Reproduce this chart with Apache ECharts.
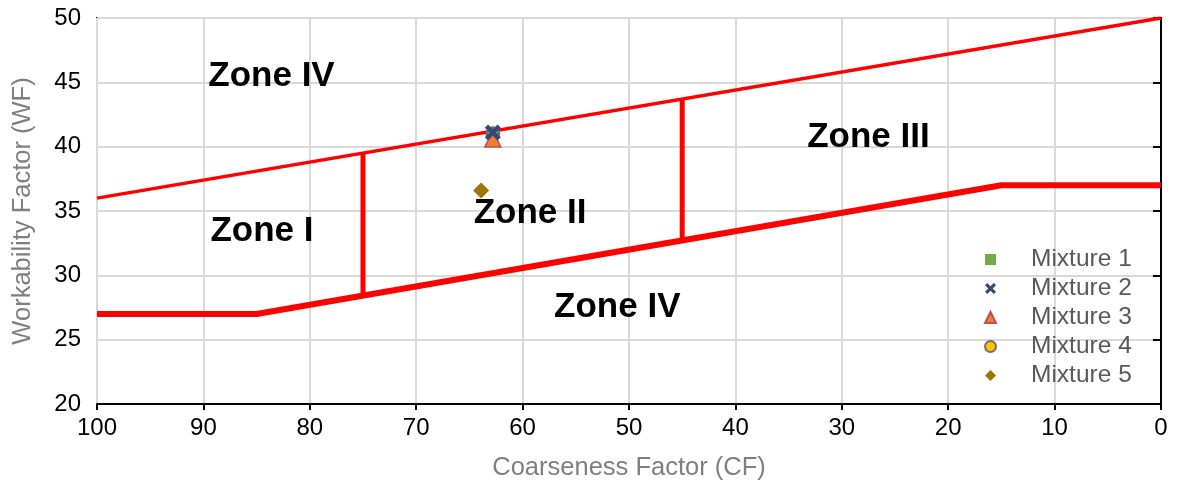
<!DOCTYPE html>
<html>
<head>
<meta charset="utf-8">
<script src="https://cdn.jsdelivr.net/npm/echarts@6/dist/echarts.min.js"></script>
<style>html,body{margin:0;padding:0;background:#fff}#c{width:1178px;height:489px}</style>
</head>
<body>
<div id="c"></div>
<script>
// Boundary lines (CF, WF)
var upperLine = [[100, 36], [0, 50]];
var lowerLine = [[100, 27], [85, 27], [15, 37], [0, 37]];
var divider75 = [[75, 28.43], [75, 39.5]];
var divider45 = [[45, 32.71], [45, 43.7]];
// Mixtures (CF, WF)
var mixture1 = [[62.8, 41.1]];
var mixture2 = [[62.8, 41.1]];
var mixture3 = [[62.8, 40.6]];
var mixture4 = [[62.8, 41.0]];
var mixture5 = [[63.9, 36.6]];
var mixtureNames = ['Mixture 1', 'Mixture 2', 'Mixture 3', 'Mixture 4', 'Mixture 5'];
// Zone labels [CF, WF, text]
var zoneLabels = [
  [83.6, 45.5, 'Zone IV'],
  [27.5, 40.7, 'Zone III'],
  [59.3, 34.8, 'Zone II'],
  [84.5, 33.4, 'Zone I'],
  [51.1, 27.5, 'Zone IV']
];

var FONT = '"Liberation Sans", Arial, sans-serif';
var xPath = 'path://M2,0 L5,3 L8,0 L10,2 L7,5 L10,8 L8,10 L5,7 L2,10 L0,8 L3,5 L0,2 Z';

function lineSeries(data, w) {
  return {
    type: 'line', data: data, showSymbol: false, symbol: 'none', silent: true,
    lineStyle: { color: '#ff0000', width: w }, z: 2, animation: false
  };
}
var zoneLabelStyle = { show: true, position: 'inside', fontFamily: FONT, fontSize: 35, fontWeight: 'bold', color: '#000', textBorderWidth: 0 };

var chart = echarts.init(document.getElementById('c'), null, { renderer: 'canvas' });
chart.setOption({
  animation: false,
  backgroundColor: '#fff',
  grid: { left: 97, right: 17, top: 18, bottom: 85, show: true, borderColor: '#000', borderWidth: 2 },
  xAxis: {
    type: 'value', inverse: true, min: 0, max: 100, interval: 10,
    name: 'Coarseness Factor (CF)', nameLocation: 'middle', nameGap: 51,
    nameTextStyle: { fontFamily: FONT, fontSize: 25.5, color: '#7f7f7f' },
    axisLine: { show: true, lineStyle: { color: '#000', width: 2 } },
    axisTick: { show: true, length: 6, lineStyle: { color: '#000', width: 2 } },
    axisLabel: { fontFamily: FONT, fontSize: 24, color: '#000', margin: 12 },
    splitLine: { show: true, lineStyle: { color: '#d9d9d9', width: 2 } }
  },
  yAxis: {
    type: 'value', min: 20, max: 50, interval: 5,
    name: 'Workability Factor (WF)', nameLocation: 'middle', nameGap: 61, nameRotate: 90,
    nameTextStyle: { fontFamily: FONT, fontSize: 25.5, color: '#7f7f7f' },
    axisLine: { show: true, lineStyle: { color: '#000', width: 2 } },
    axisTick: { show: true, length: 8, lineStyle: { color: '#000', width: 2 } },
    axisLabel: { fontFamily: FONT, fontSize: 24, color: '#000', margin: 16 },
    splitLine: { show: true, lineStyle: { color: '#d9d9d9', width: 2 } }
  },
  legend: {
    data: mixtureNames,
    orient: 'vertical', left: 979, top: 242, itemGap: 4,
    itemWidth: 11, itemHeight: 11,
    textStyle: { fontFamily: FONT, fontSize: 24.5, color: '#595959', padding: [0, 0, 0, 30] }
  },
  series: [
    lineSeries(upperLine, 3.5),
    lineSeries(lowerLine, 6),
    lineSeries(divider75, 5),
    lineSeries(divider45, 5),
    {
      type: 'scatter', silent: true,
      data: zoneLabels.map(function (z) { return { value: [z[0], z[1]], label: Object.assign({}, zoneLabelStyle, { formatter: z[2] }) }; }),
      symbolSize: 0, z: 5, itemStyle: { opacity: 1 },
      label: zoneLabelStyle
    },
    { name: 'Mixture 1', type: 'scatter', data: mixture1, symbol: 'rect', symbolSize: 9, itemStyle: { color: '#70ad47', opacity: 1 }, z: 6 },
    { name: 'Mixture 4', type: 'scatter', data: mixture4, symbol: 'circle', symbolSize: 12, itemStyle: { color: '#ffc000', borderColor: '#6f6f6f', borderWidth: 3, opacity: 1 }, z: 6 },
    { name: 'Mixture 3', type: 'scatter', data: mixture3, symbol: 'triangle', symbolSize: 16, itemStyle: { color: '#ed7d31', borderColor: '#c0504d', borderWidth: 1.5, opacity: 1 }, z: 7 },
    { name: 'Mixture 2', type: 'scatter', data: mixture2, symbol: xPath, symbolSize: 16, itemStyle: { color: '#2f4b7c', opacity: 1 }, z: 8 },
    { name: 'Mixture 5', type: 'scatter', data: mixture5, symbol: 'diamond', symbolSize: 16, itemStyle: { color: '#9c7600', opacity: 1 }, z: 6 }
  ]
});
</script>
</body>
</html>
